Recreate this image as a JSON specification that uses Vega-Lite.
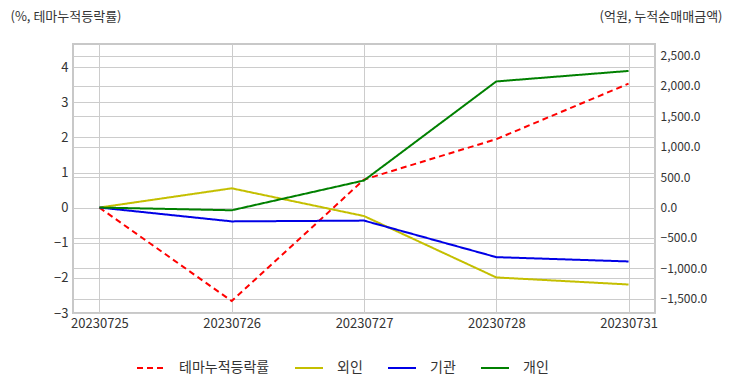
{
  "$schema": "https://vega.github.io/schema/vega-lite/v6.json",
  "width": 582,
  "height": 269,
  "autosize": {"type": "none"},
  "padding": {"left": 73, "top": 44, "right": 77, "bottom": 79},
  "background": "white",
  "config": {
    "font": "Noto Sans CJK KR",
    "view": {"stroke": "#c8c8c8", "strokeWidth": 2},
    "axis": {"labelColor": "#333333", "labelFontSize": 12, "titleColor": "#333333", "titleFontSize": 13, "titleFontWeight": "normal", "gridColor": "#cccccc", "gridWidth": 1, "ticks": false, "domain": false}
  },
  "data": {
    "values": [
      {"date": "20230725", "series": "테마누적등락률", "value": 0},
      {"date": "20230726", "series": "테마누적등락률", "value": -2.66},
      {"date": "20230727", "series": "테마누적등락률", "value": 0.8},
      {"date": "20230728", "series": "테마누적등락률", "value": 1.95},
      {"date": "20230731", "series": "테마누적등락률", "value": 3.53},
      {"date": "20230725", "series": "외인", "value": 0},
      {"date": "20230726", "series": "외인", "value": 316},
      {"date": "20230727", "series": "외인", "value": -140},
      {"date": "20230728", "series": "외인", "value": -1150},
      {"date": "20230731", "series": "외인", "value": -1266},
      {"date": "20230725", "series": "기관", "value": 0},
      {"date": "20230726", "series": "기관", "value": -228},
      {"date": "20230727", "series": "기관", "value": -215},
      {"date": "20230728", "series": "기관", "value": -816},
      {"date": "20230731", "series": "기관", "value": -887},
      {"date": "20230725", "series": "개인", "value": 0},
      {"date": "20230726", "series": "개인", "value": -45},
      {"date": "20230727", "series": "개인", "value": 445},
      {"date": "20230728", "series": "개인", "value": 2074},
      {"date": "20230731", "series": "개인", "value": 2247}
    ]
  },
  "encoding": {
    "x": {
      "field": "date", "type": "ordinal", "sort": null,
      "scale": {"type": "point", "padding": 0.2},
      "axis": {"title": null, "labelAngle": 0, "grid": true, "labelPadding": 4, "labelFontSize": 13}
    },
    "color": {
      "field": "series", "type": "nominal",
      "scale": {"domain": ["테마누적등락률", "외인", "기관", "개인"], "range": ["#ff0000", "#c4bf00", "#0000e6", "#008000"]},
      "legend": {
        "title": null, "orient": "none", "direction": "horizontal",
        "legendX": 63, "legendY": 309,
        "symbolType": "stroke", "symbolSize": 784, "symbolStrokeWidth": 2,
        "labelFontSize": 14, "labelColor": "#333333", "columnPadding": 21, "labelOffset": 13,
        "padding": 0
      }
    },
    "strokeDash": {
      "field": "series", "type": "nominal",
      "scale": {"domain": ["테마누적등락률", "외인", "기관", "개인"], "range": [[6, 4], [1, 0], [1, 0], [1, 0]]},
      "legend": {
        "title": null, "orient": "none", "direction": "horizontal",
        "legendX": 63, "legendY": 309,
        "symbolType": "stroke", "symbolSize": 784, "symbolStrokeWidth": 2,
        "labelFontSize": 14, "labelColor": "#333333", "columnPadding": 21, "labelOffset": 13,
        "padding": 0
      }
    }
  },
  "layer": [
    {
      "transform": [{"filter": "datum.series === '테마누적등락률'"}],
      "mark": {"type": "line", "strokeWidth": 2},
      "encoding": {
        "y": {
          "field": "value", "type": "quantitative",
          "scale": {"domain": [-3, 4.66], "nice": false, "zero": false},
          "axis": {
            "orient": "left", "values": [-3, -2, -1, 0, 1, 2, 3, 4], "grid": true, "labelPadding": 5, "labelFontSize": 13,
            "title": "(%, 테마누적등락률)", "titleAngle": 0, "titleAlign": "left", "titleBaseline": "middle",
            "titleX": -63, "titleY": -28
          }
        }
      }
    },
    {
      "transform": [{"filter": "datum.series !== '테마누적등락률'"}],
      "mark": {"type": "line", "strokeWidth": 2},
      "encoding": {
        "y": {
          "field": "value", "type": "quantitative",
          "scale": {"domain": [-1735, 2690], "nice": false, "zero": false},
          "axis": {
            "orient": "right", "values": [-1500, -1000, -500, 0, 500, 1000, 1500, 2000, 2500], "format": ",.1f", "grid": true, "labelPadding": 5,
            "title": "(억원, 누적순매매금액)", "titleAngle": 0, "titleAlign": "right", "titleBaseline": "middle",
            "titleX": 67, "titleY": -28
          }
        }
      }
    }
  ],
  "resolve": {"scale": {"y": "independent"}}
}
